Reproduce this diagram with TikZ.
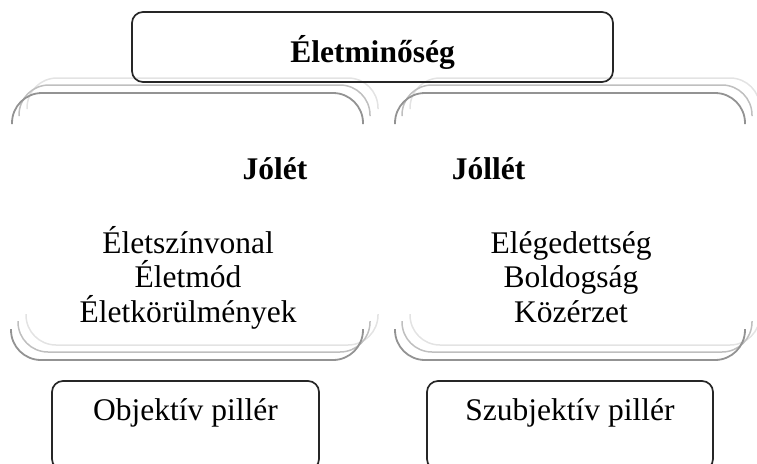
\documentclass[tikz,border=0pt]{standalone}
\usepackage{fontspec}
\setmainfont{Liberation Serif}
\usepackage{tikz}

\begin{document}
\begin{tikzpicture}[x=1pt,y=-1pt,
  every node/.style={inner sep=0pt,font=\fontsize{31.5}{34.5}\selectfont},
  bold/.style={font=\fontsize{31.5}{34.5}\selectfont\bfseries},
  box/.style={draw=black!85,line width=1.7pt,rounded corners=11pt,inner sep=0pt},
  brace/.style={line width=1.8pt,rounded corners=30pt}]
\useasboundingbox (0,0) rectangle (757,463);
\clip (0,0) rectangle (757,463);
% brackets with two shadow copies behind them
\foreach \dx/\dy/\shade/\lw in {15/15/gray!22/1.5pt, 7/8/gray!50/1.5pt, 0/0/gray!85/1.8pt} {
  \draw[brace,draw=\shade,line width=\lw,shift={(\dx,-\dy)}] (12,124)--(12,93)--(363,93)--(363,124);
  \draw[brace,draw=\shade,line width=\lw,shift={(\dx,-\dy)}] (395,124)--(395,93)--(745,93)--(745,124);
  \draw[brace,draw=\shade,line width=\lw,shift={(\dx,-\dy)}] (11,329)--(11,360)--(363,360)--(363,329);
  \draw[brace,draw=\shade,line width=\lw,shift={(\dx,-\dy)}] (395,329)--(395,360)--(745,360)--(745,329);
}
\node[box,bold,minimum width=481pt,minimum height=70pt,text height=30pt,text depth=0pt] (quality) at (372.5,47) {Életminőség};
\node[bold,anchor=base] (welfare) at (275,179) {Jólét};
\node[bold,anchor=base] (wellbeing) at (488.5,179) {Jóllét};
\node[anchor=base] (standard) at (188,253) {Életszínvonal};
\node[anchor=base] (lifestyle) at (188,287.5) {Életmód};
\node[anchor=base] (conditions) at (188,322) {Életkörülmények};
\node[anchor=base] (satisfaction) at (571,253) {Elégedettség};
\node[anchor=base] (happiness) at (571,287.5) {Boldogság};
\node[anchor=base] (mood) at (571,322) {Közérzet};
\node[box,minimum width=267pt,minimum height=89pt,text height=22pt,text depth=33pt] (objective) at (185.5,425.5) {Objektív pillér};
\node[box,minimum width=286pt,minimum height=89pt,text height=22pt,text depth=33pt] (subjective) at (570,425.5) {Szubjektív pillér};
\end{tikzpicture}
\end{document}
